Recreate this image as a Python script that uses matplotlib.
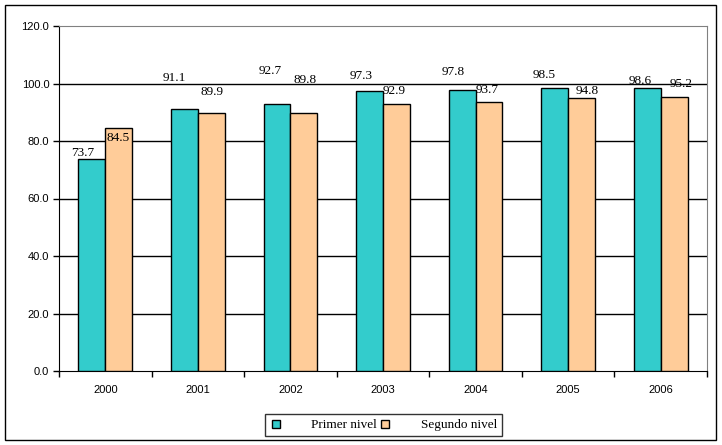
import matplotlib.pyplot as plt
import numpy as np
from matplotlib.lines import Line2D
from matplotlib.patches import Rectangle

# Datos
years = ["2000", "2001", "2002", "2003", "2004", "2005", "2006"]
primer = [73.7, 91.1, 92.7, 97.3, 97.8, 98.5, 98.6]
segundo = [84.5, 89.9, 89.8, 92.9, 93.7, 94.8, 95.2]

# desplazamiento de las etiquetas (pixeles) respecto al tope de cada barra
primer_off = [(-9, 6), (-10, 31), (-7, 33), (-8, 15), (-9, 18), (-11, 13), (-7, 7)]
segundo_off = [(-1, -10), (1, 21), (1, 33), (-2, 13), (-2, 12), (6, 7), (7, 13)]

c_primer = "#33CCCC"
c_segundo = "#FFCC99"
serif = "Liberation Serif"

fig = plt.figure(figsize=(7.22, 4.45), dpi=100)
ax = fig.add_axes([59 / 722, 74 / 445, 648 / 722, 345 / 445])

x = np.arange(len(years))
w = 0.29
b1 = ax.bar(x - w / 2, primer, w, color=c_primer, edgecolor="black", linewidth=1, zorder=3)
b2 = ax.bar(x + w / 2, segundo, w, color=c_segundo, edgecolor="black", linewidth=1, zorder=3)

for bars, vals, offs in [(b1, primer, primer_off), (b2, segundo, segundo_off)]:
    for rect, v, (dx, dy) in zip(bars, vals, offs):
        ax.annotate(f"{v:.1f}", (rect.get_x() + rect.get_width() / 2, v),
                    xytext=(dx, dy), textcoords="offset pixels",
                    ha="center", va="center", fontsize=9.5, family=serif, zorder=4)

ax.set_xlim(-0.5, len(years) - 0.5)
ax.set_ylim(0, 120)
ax.set_yticks(np.arange(0, 121, 20))
ax.set_yticklabels([f"{t:.1f}" for t in np.arange(0, 121, 20)])
ax.set_xticks(x)
ax.set_xticklabels(years)
ax.set_xticks(np.arange(-0.5, len(years)), minor=True)
ax.tick_params(axis="x", which="major", length=0, pad=10)
ax.tick_params(axis="x", which="minor", length=4, width=1, direction="out")
ax.tick_params(axis="y", length=4, width=1, direction="out", pad=3)
for lab in ax.get_xticklabels() + ax.get_yticklabels():
    lab.set_family("Liberation Sans")
    lab.set_fontsize(8)

for y in range(20, 120, 20):
    ax.axhline(y, color="black", linewidth=1, zorder=1)
ax.spines["top"].set_color("#808080")
ax.spines["right"].set_color("#808080")

handles = [
    Line2D([], [], marker="s", linestyle="none", markersize=6, markerfacecolor=c_primer,
           markeredgecolor="black", markeredgewidth=1),
    Line2D([], [], marker="s", linestyle="none", markersize=6, markerfacecolor=c_segundo,
           markeredgecolor="black", markeredgewidth=1),
]
leg = fig.legend(handles, ["Primer nivel", "Segundo nivel"], ncol=2,
                 loc="center", bbox_to_anchor=(383 / 722, 20 / 445),
                 prop={"family": serif, "size": 9.5}, frameon=True, fancybox=False,
                 edgecolor="black", handlelength=1.0, handletextpad=2.2,
                 columnspacing=0.1, borderpad=0.35)
leg.get_frame().set_linewidth(1)

fig.patches.append(Rectangle((5 / 722, 5 / 445), 711 / 722, 435 / 445, transform=fig.transFigure,
                             fill=False, edgecolor="black", linewidth=1))

plt.savefig("out.png", dpi=100)
